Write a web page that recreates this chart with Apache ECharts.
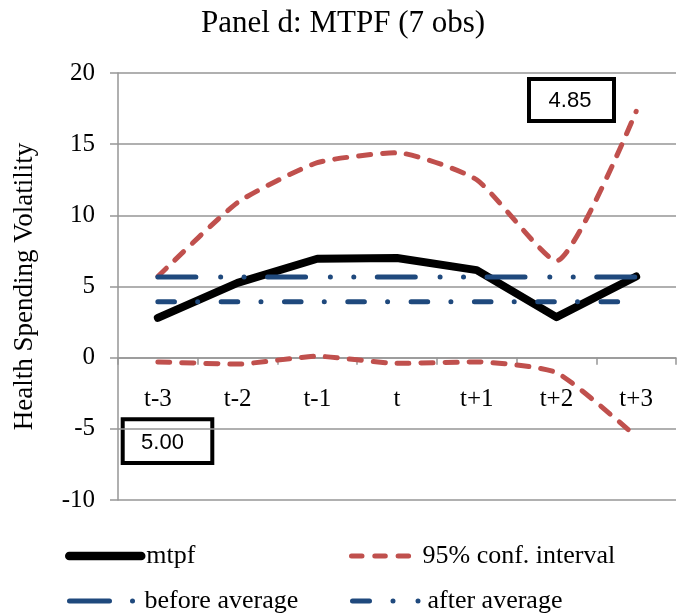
<!DOCTYPE html>
<html><head><meta charset="utf-8">
<script src="https://cdn.jsdelivr.net/npm/echarts@6/dist/echarts.min.js"></script>
<style>html,body{margin:0;padding:0;background:#fff}#c{width:686px;height:616px}</style>
</head><body><div id="c"></div>
<script>
const titleText = 'Panel d: MTPF (7 obs)';
const yAxisName = 'Health Spending Volatility';
const categories = ['t-3', 't-2', 't-1', 't', 't+1', 't+2', 't+3'];
const mtpf = [2.8, 5.25, 6.95, 7.0, 6.15, 2.85, 5.7];
const ciUpper = [5.7, 10.9, 13.7, 14.4, 12.5, 6.8, 17.3];
const ciLower = [-0.3, -0.45, 0.1, -0.4, -0.3, -1.05, -5.55];
const beforeAvg = [3.92, 3.92, 3.92, 3.92, 3.92, 3.92, 3.92];
const afterAvg = [5.67, 5.67, 5.67, 5.67, 5.67, 5.67, 5.67];
const yMin = -10, yMax = 20, yStep = 5;
const boxAfter = '4.85';
const boxBefore = '5.00';

const serif = 'Liberation Serif, Times New Roman, serif';
const RED = '#C0504D', BLUE = '#1F497D', GRAY = '#969696';

const W = 686, H = 616;
const gridTop = 73, gridBottom = 116;
const plotH = H - gridTop - gridBottom;
// place the category axis where the value axis crosses zero
const xAxisOffset = -((0 - yMin) / (yMax - yMin)) * plotH;

const chart = echarts.init(document.getElementById('c'), null, {renderer: 'canvas'});

function legendAt(name, left, top, w, ls) {
  return {
    data: [name], left: left, top: top, itemWidth: w, itemHeight: 14,
    selectedMode: false, padding: 0,
    itemStyle: {color: 'rgba(0,0,0,0)', borderWidth: 0, opacity: 0},
    textStyle: {fontFamily: serif, fontSize: 26, color: '#000'},
    lineStyle: ls
  };
}

chart.setOption({
  animation: false,
  title: {
    text: titleText, left: 'center', top: 3,
    textStyle: {fontFamily: serif, fontSize: 31, fontWeight: 'normal', color: '#000'}
  },
  grid: {left: 118, right: 10, top: gridTop, bottom: gridBottom, containLabel: false},
  legend: [
    legendAt('mtpf', 65, 543, 72, {width: 8.5, cap: 'round', color: '#000'}),
    legendAt('95% conf. interval', 349, 543, 66, {width: 5, cap: 'round', color: RED, type: [10.5, 12.8]}),
    legendAt('before average', 67, 588, 70, {width: 5, cap: 'round', color: BLUE, type: [40, 23, 0.01, 60]}),
    legendAt('after average', 350, 588, 70, {width: 5, cap: 'round', color: BLUE, type: [17, 23.5, 0.01, 25, 0.01, 60]})
  ],
  xAxis: {
    type: 'category', data: categories, boundaryGap: true,
    offset: xAxisOffset,
    axisLine: {onZero: false, lineStyle: {color: GRAY, width: 1.5}},
    axisTick: {show: true, length: 7, lineStyle: {color: GRAY, width: 1.5}},
    axisLabel: {margin: 29, fontFamily: serif, fontSize: 25, color: '#000'},
    splitLine: {show: false}
  },
  yAxis: {
    type: 'value', min: yMin, max: yMax, interval: yStep,
    name: yAxisName, nameLocation: 'middle', nameGap: 80,
    nameTextStyle: {fontFamily: serif, fontSize: 27, color: '#000'},
    axisLine: {show: true, lineStyle: {color: GRAY, width: 1.5}},
    axisTick: {show: true, length: 8, lineStyle: {color: GRAY, width: 1.5}},
    axisLabel: {margin: 23, fontFamily: serif, fontSize: 25, color: '#000'},
    splitLine: {show: true, lineStyle: {color: GRAY, width: 1.5}}
  },
  series: [
    {name: 'mtpf', type: 'line', data: mtpf, symbol: 'none', z: 3,
     lineStyle: {color: '#000', width: 8, cap: 'round', join: 'round'}, itemStyle: {color: '#000'}},
    {name: '95% conf. interval', type: 'line', data: ciUpper, symbol: 'none', smooth: 0.18, z: 3,
     lineStyle: {color: RED, width: 5, cap: 'round', type: [12, 12]}, itemStyle: {color: RED}},
    {name: '95% conf. interval', type: 'line', data: ciLower, symbol: 'none', smooth: 0.18, z: 3,
     lineStyle: {color: RED, width: 5, cap: 'round', type: [12, 12]}, itemStyle: {color: RED}},
    {name: 'before average', type: 'line', data: beforeAvg, symbol: 'none', z: 4,
     lineStyle: {color: BLUE, width: 5, cap: 'round', type: [16.6, 23.2, 0.01, 23.5]}, itemStyle: {color: BLUE}},
    {name: 'after average', type: 'line', data: afterAvg, symbol: 'none', z: 4,
     lineStyle: {color: BLUE, width: 5, cap: 'round', type: [38, 24.8, 0.01, 23.4, 0.01, 23.5]}, itemStyle: {color: BLUE}}
  ],
  graphic: [
    {type: 'group', z: 10, children: [
      {type: 'rect', shape: {x: 529, y: 79, width: 85, height: 42},
       style: {fill: '#fff', stroke: '#000', lineWidth: 4}},
      {type: 'text', x: 570, y: 101,
       style: {text: boxAfter, fontFamily: 'Liberation Sans, Arial, sans-serif', fontSize: 22,
               fill: '#000', align: 'center', verticalAlign: 'middle'}}
    ]},
    {type: 'group', z: 10, children: [
      {type: 'rect', shape: {x: 122.7, y: 419.3, width: 89.6, height: 43.7},
       style: {fill: '#fff', stroke: '#000', lineWidth: 4}},
      {type: 'text', x: 162.5, y: 443,
       style: {text: boxBefore, fontFamily: 'Liberation Sans, Arial, sans-serif', fontSize: 22,
               fill: '#000', align: 'center', verticalAlign: 'middle'}}
    ]}
  ]
});
</script>
</body></html>
